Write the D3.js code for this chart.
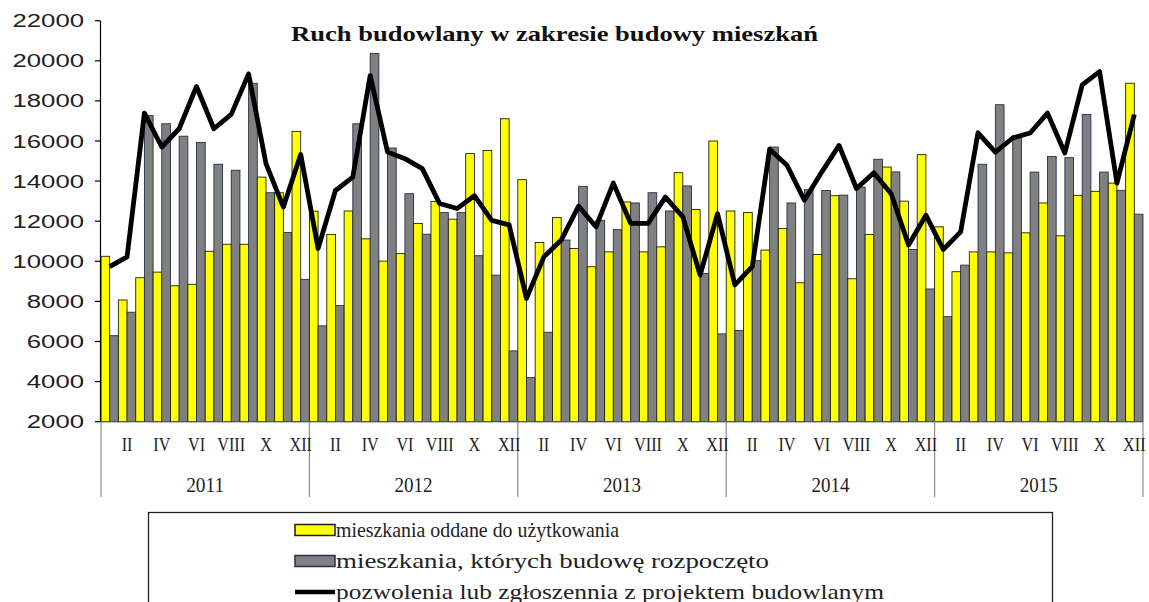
<!DOCTYPE html>
<html>
<head>
<meta charset="utf-8">
<script src="https://cdn.jsdelivr.net/npm/d3@7"></script>
<style>
  html, body { margin: 0; padding: 0; background: #ffffff; }
  svg { display: block; }
</style>
</head>
<body>
<svg id="chart" width="1149" height="602"></svg>
<script>
// ---------------- DATA ----------------
const years = ["2011", "2012", "2013", "2014", "2015"];
const monthLabels = ["", "II", "", "IV", "", "VI", "", "VIII", "", "X", "", "XII"];
const yTicks = [2000, 4000, 6000, 8000, 10000, 12000, 14000, 16000, 18000, 20000, 22000];
const seriesNames = [
  "mieszkania oddane do użytkowania",
  "mieszkania, których budowę rozpoczęto",
  "pozwolenia lub zgłoszennia z projektem budowlanym"
];
const title = "Ruch budowlany w zakresie budowy mieszkań";

// mieszkania oddane do użytkowania (yellow)
const oddane = [
  10250, 8070, 9180, 9460, 8780, 8850, 10500, 10850, 10850, 14200, 13420, 16480,
  12500, 11340, 12510, 11120, 10010, 10390, 11890, 12990, 12100, 15370, 15530, 17110,
  14070, 10940, 12180, 10640, 9730, 10470, 12960, 10470, 10720, 14420, 12580, 16000,
  12510, 12430, 10560, 11630, 8930, 10340, 13270, 9130, 11340, 14700, 13000, 15320,
  11720, 9480, 10470, 10470, 10420, 11420, 12910, 11270, 13290, 13490, 13900, 18880
];
// mieszkania, których budowę rozpoczęto (grey)
const rozpoczete = [
  6290, 7460, 17270, 16860, 16240, 15930, 14840, 14540, 18880, 13420, 11440, 9100,
  6780, 7790, 16860, 20370, 15650, 13370, 11350, 12430, 12430, 10280, 9310, 5530,
  4200, 6460, 11060, 13740, 12040, 11580, 12910, 13420, 12510, 13760, 9390, 6380,
  6550, 10030, 15700, 12910, 13570, 13530, 13300, 13700, 15090, 14460, 10590, 8620,
  7240, 9810, 14840, 17810, 16280, 14450, 15230, 15170, 17320, 14450, 13540, 12350
];
// pozwolenia lub zgłoszenia (line)
const pozwolenia = [
  9730, 10220, 17390, 15700, 16610, 18720, 16610, 17330, 19350, 14870, 12710, 15330,
  10640, 13530, 14200, 19260, 15450, 15120, 14620, 12880, 12630, 13270, 12040, 11820,
  8150, 10220, 11060, 12750, 11720, 13900, 11890, 11890, 13200, 12220, 9310, 12380,
  8820, 9730, 15590, 14790, 13050, 14450, 15780, 13630, 14420, 13370, 10810, 12300,
  10590, 11470, 16410, 15450, 16150, 16400, 17390, 15400, 18800, 19460, 13900, 17320
];

// ---------------- CHART ----------------
const svg = d3.select("#chart");
const plotLeft = 101, plotRight = 1143, plotTop = 20.7, plotBottom = 421.7;

const months = d3.range(oddane.length);
const x = d3.scaleBand().domain(months).range([plotLeft, plotRight]).padding(0);
const xSub = d3.scaleBand().domain(["oddane", "rozpoczete"]).range([0, x.bandwidth()]).padding(0);
const y = d3.scaleLinear().domain([2000, 22000]).range([plotBottom, plotTop]);

const colors = { oddane: "#ffff00", rozpoczete: "#808080" };
const strokes = { oddane: "#1e1e10", rozpoczete: "#27304a" };

// bars
const barData = [];
months.forEach(i => {
  barData.push({ i, key: "oddane", v: oddane[i] });
  barData.push({ i, key: "rozpoczete", v: rozpoczete[i] });
});
svg.append("g").selectAll("rect").data(barData).join("rect")
  .attr("x", d => x(d.i) + xSub(d.key))
  .attr("y", d => y(d.v))
  .attr("width", xSub.bandwidth())
  .attr("height", d => y(2000) - y(d.v))
  .attr("fill", d => colors[d.key])
  .attr("stroke", d => strokes[d.key])
  .attr("stroke-width", 0.9);

// line
const line = d3.line()
  .x((d, i) => x(i) + x.bandwidth() / 2)
  .y(d => y(d));
svg.append("path").datum(pozwolenia)
  .attr("d", line)
  .attr("fill", "none")
  .attr("stroke", "#000")
  .attr("stroke-width", 4.8)
  .attr("stroke-linejoin", "round");

// y axis
const yAxis = svg.append("g");
yAxis.append("line")
  .attr("x1", plotLeft - 0.5).attr("x2", plotLeft - 0.5)
  .attr("y1", y(22000)).attr("y2", y(2000))
  .attr("stroke", "#000").attr("stroke-width", 1.2);
yAxis.selectAll("line.tick").data(yTicks).join("line")
  .attr("class", "tick")
  .attr("x1", plotLeft - 6).attr("x2", plotLeft - 0.5)
  .attr("y1", d => y(d)).attr("y2", d => y(d))
  .attr("stroke", "#000").attr("stroke-width", 1.2);
yAxis.selectAll("text").data(yTicks).join("text")
  .attr("x", 84)
  .attr("y", d => y(d) + 6.5)
  .attr("text-anchor", "end")
  .attr("font-family", "Liberation Sans, Arial, sans-serif")
  .attr("font-size", 18)
  .attr("fill", "#222")
  .attr("textLength", d => String(d).length * 14.3)
  .attr("lengthAdjust", "spacingAndGlyphs")
  .text(d => d);

// x axis
const xAxis = svg.append("g");
xAxis.append("line")
  .attr("x1", plotLeft - 0.5).attr("x2", plotRight)
  .attr("y1", plotBottom).attr("y2", plotBottom)
  .attr("stroke", "#555").attr("stroke-width", 1);
// year separators
const yearBounds = d3.range(years.length + 1).map(k => k === years.length ? plotRight : x(k * 12));
xAxis.selectAll("line.sep").data(yearBounds).join("line")
  .attr("class", "sep")
  .attr("x1", d => d).attr("x2", d => d)
  .attr("y1", plotBottom).attr("y2", 497)
  .attr("stroke", "#8a8a8a").attr("stroke-width", 1.2);
// month labels
xAxis.selectAll("text.m").data(months.filter(i => monthLabels[i % 12] !== "")).join("text")
  .attr("class", "m")
  .attr("x", i => x(i) + x.bandwidth() / 2)
  .attr("y", 451)
  .attr("text-anchor", "middle")
  .attr("font-family", "Liberation Serif, Times New Roman, serif")
  .attr("font-size", 19)
  .attr("fill", "#222")
  .attr("transform", i => `translate(${x(i) + x.bandwidth() / 2},0) scale(0.85,1) translate(${-(x(i) + x.bandwidth() / 2)},0)`)
  .text(i => monthLabels[i % 12]);
// year labels
xAxis.selectAll("text.yr").data(years).join("text")
  .attr("class", "yr")
  .attr("x", (d, k) => (yearBounds[k] + yearBounds[k + 1]) / 2)
  .attr("y", 492)
  .attr("text-anchor", "middle")
  .attr("font-family", "Liberation Serif, Times New Roman, serif")
  .attr("font-size", 20)
  .attr("fill", "#222")
  .attr("textLength", 38)
  .attr("lengthAdjust", "spacingAndGlyphs")
  .text(d => d);

// title
svg.append("text")
  .attr("x", 291).attr("y", 41)
  .attr("font-family", "Liberation Serif, Times New Roman, serif")
  .attr("font-weight", "bold")
  .attr("font-size", 21)
  .attr("fill", "#111")
  .attr("textLength", 527)
  .attr("lengthAdjust", "spacingAndGlyphs")
  .text(title);

// legend
const lg = svg.append("g");
lg.append("rect")
  .attr("x", 148.5).attr("y", 512.5)
  .attr("width", 904).attr("height", 120)
  .attr("fill", "#fff").attr("stroke", "#222").attr("stroke-width", 1.3);
const legendRows = [
  { key: "oddane", label: seriesNames[0], len: 283 },
  { key: "rozpoczete", label: seriesNames[1], len: 433 },
  { key: "line", label: seriesNames[2], len: 548 }
];
legendRows.forEach((r, k) => {
  const cy = 530 + k * 31;
  if (r.key === "line") {
    lg.append("line")
      .attr("x1", 295).attr("x2", 335).attr("y1", cy).attr("y2", cy)
      .attr("stroke", "#000").attr("stroke-width", 4.5);
  } else {
    lg.append("rect")
      .attr("x", 295).attr("y", cy - 5.5).attr("width", 40).attr("height", 11)
      .attr("fill", colors[r.key]).attr("stroke", strokes[r.key]).attr("stroke-width", 1.5);
  }
  lg.append("text")
    .attr("x", 336).attr("y", cy + 6.5)
    .attr("font-family", "Liberation Serif, Times New Roman, serif")
    .attr("font-size", 21)
    .attr("fill", "#222")
    .attr("textLength", r.len)
    .attr("lengthAdjust", "spacingAndGlyphs")
    .text(r.label);
});
</script>
</body>
</html>
